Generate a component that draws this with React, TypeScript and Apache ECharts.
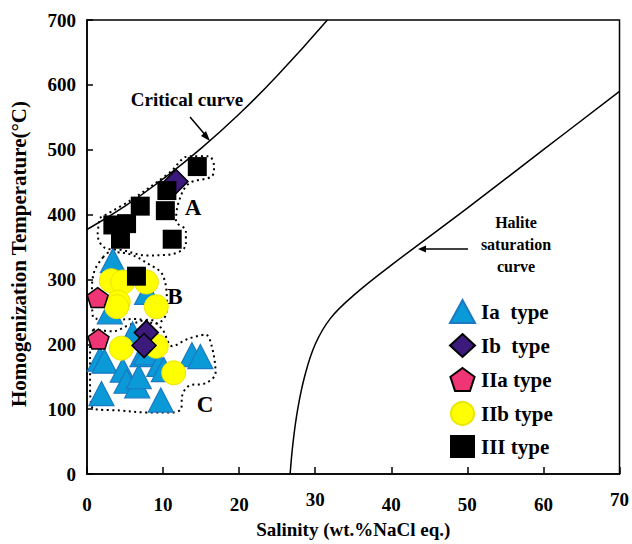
import React, { useEffect, useRef } from "react";
import * as echarts from "echarts";

// Fluid inclusion data: salinity (wt.% NaCl eq.) vs homogenization temperature (°C)
const iaType: number[][] = [
  [3.4, 329], [7.9, 280], [3.0, 250], [1.7, 177], [2.3, 174], [1.9, 124],
  [4.7, 160], [5.2, 143], [6.6, 136], [6.8, 150], [6.0, 216], [7.3, 184],
  [7.8, 187], [9.5, 169], [10.1, 161], [9.7, 114], [13.8, 184], [14.9, 181],
];
const ibType: number[][] = [[11.7, 451], [7.8, 218], [7.5, 198]];
const iiaType: number[][] = [[1.5, 208], [1.4, 272]];
const iibType: number[][] = [
  [3.2, 298], [4.7, 296], [7.8, 296], [4.1, 265], [3.9, 258], [9.1, 258],
  [4.5, 194], [9.1, 197], [11.4, 156],
];
const iiiType: number[][] = [
  [3.4, 384], [5.2, 386], [4.4, 362], [7.0, 413], [10.3, 406], [10.5, 437],
  [14.5, 474], [11.2, 362], [6.5, 305],
];

// Reference curves
const criticalCurve: number[][] = [
  [0, 377], [5, 413], [10, 455], [15, 502], [20, 555], [25, 614], [31.6, 700],
];
const haliteCurve: number[][] = [
  [26.7, 0], [27.1, 50], [27.7, 100], [28.6, 150], [30, 200], [32, 240],
  [35, 275], [40, 322], [50, 410], [60, 500], [70, 590],
];

// Dotted envelopes around groups A, B, C
const envelopeA: number[][] = [
  [1.7, 395], [5.6, 421], [10.8, 464], [13.4, 490], [16.0, 490], [16.7, 474],
  [16.4, 459], [13.4, 448], [12.1, 421], [11.7, 390], [13.0, 375], [13.0, 354],
  [11.2, 339], [7.8, 337], [4.7, 345], [2.3, 349], [1.4, 369], [1.7, 395],
];
const envelopeB: number[][] = [
  [2.1, 334], [3.0, 342], [5.6, 339], [8.2, 323], [9.9, 308], [10.5, 268],
  [10.4, 247], [9.1, 232], [6.5, 239], [3.4, 238], [0.8, 242], [0.65, 284],
  [1.0, 314], [2.1, 334],
];
const envelopeC: number[][] = [
  [0.8, 223], [3.4, 220], [5.6, 230], [8.2, 238], [9.9, 223], [11.2, 197],
  [13.0, 207], [14.3, 212], [15.6, 215], [16.4, 197], [16.9, 156], [15.6, 140],
  [13.4, 136], [12.5, 120], [12.4, 101], [11.2, 95], [7.8, 95], [4.3, 98],
  [0.8, 101], [0.4, 140], [0.4, 192], [0.8, 223],
];

const raisedXTicks = [30, 70];

const SERIF = "'Liberation Serif', 'Times New Roman', serif";
const PENTAGON =
  "path://M50,0 L97.6,34.5 L79.4,90.5 L20.6,90.5 L2.4,34.5 Z";

const names = ["Ia  type", "Ib  type", "IIa type", "IIb type", "III type"];

export default function App() {
  const ref = useRef<HTMLDivElement>(null);

  useEffect(() => {
    if (!ref.current) return;
    const chart = echarts.init(ref.current, undefined, { renderer: "svg" });

    const envelope = (data: number[][]) => ({
      type: "line",
      data,
      silent: true,
      symbol: "none",
      smooth: 0.35,
      lineStyle: { color: "#000", width: 2, type: [2, 3.5] },
      z: 1,
    });

    const labelText = (text: string, x: number, y: number, size: number) => ({
      type: "text",
      x,
      y,
      style: {
        text,
        font: `bold ${size}px ${SERIF}`,
        fill: "#000",
        align: "center",
        verticalAlign: "middle",
      },
    });

    chart.setOption({
      animation: false,
      backgroundColor: "#fff",
      grid: {
        left: 87,
        right: 7,
        top: 20,
        bottom: 65,
        show: true,
        borderColor: "#000",
        borderWidth: 1.5,
      },
      xAxis: {
        type: "value",
        min: 0,
        max: 70,
        interval: 10,
        name: "Salinity (wt.%NaCl eq.)",
        nameLocation: "middle",
        nameGap: 46,
        nameTextStyle: {
          fontFamily: SERIF,
          fontWeight: "bold",
          fontSize: 19,
          color: "#000",
        },
        splitLine: { show: false },
        axisLine: { lineStyle: { color: "#000", width: 1.5 } },
        axisTick: { inside: true, length: 7, lineStyle: { color: "#000", width: 1.5 } },
        axisLabel: {
          margin: 40,
          verticalAlign: "bottom",
          fontFamily: SERIF,
          fontWeight: "bold",
          fontSize: 19,
          color: "#000",
          formatter: (v: number) =>
            raisedXTicks.includes(v) ? `{up|${v}}` : `{n|${v}}`,
          rich: {
            n: {
              fontFamily: SERIF,
              fontWeight: "bold",
              fontSize: 19,
              color: "#000",
            },
            up: {
              fontFamily: SERIF,
              fontWeight: "bold",
              fontSize: 19,
              color: "#000",
              padding: [0, 0, 5, 0],
            },
          },
        },
      },
      yAxis: {
        type: "value",
        min: 0,
        max: 700,
        interval: 100,
        name: "Homogenization Temperature(°C)",
        nameLocation: "middle",
        nameGap: 58,
        nameTextStyle: {
          fontFamily: SERIF,
          fontWeight: "bold",
          fontSize: 21,
          color: "#000",
          padding: [0, 14, 0, 0],
        },
        splitLine: { show: false },
        axisLine: { lineStyle: { color: "#000", width: 1.5 } },
        axisTick: { inside: true, length: 6, lineStyle: { color: "#000", width: 1.5 } },
        axisLabel: {
          margin: 11,
          fontFamily: SERIF,
          fontWeight: "bold",
          fontSize: 19,
          color: "#000",
        },
      },
      legend: {
        data: names,
        orient: "vertical",
        left: 444,
        top: 294,
        itemWidth: 25,
        itemHeight: 23,
        itemGap: 9,
        selectedMode: false,
        textStyle: {
          fontFamily: SERIF,
          fontWeight: "bold",
          fontSize: 21,
          color: "#000",
          padding: [0, 0, 0, 1],
        },
      },
      series: [
        envelope(envelopeA),
        envelope(envelopeB),
        envelope(envelopeC),
        {
          type: "line",
          data: criticalCurve,
          smooth: true,
          symbol: "none",
          silent: true,
          clip: true,
          lineStyle: { color: "#000", width: 1.5 },
          z: 1,
        },
        {
          type: "line",
          data: haliteCurve,
          smooth: 0.4,
          symbol: "none",
          silent: true,
          clip: true,
          lineStyle: { color: "#000", width: 1.5 },
          z: 1,
        },
        {
          name: names[0],
          type: "scatter",
          data: iaType,
          symbol: "triangle",
          symbolSize: [25, 24],
          itemStyle: {
            color: "#0a9ad8",
            borderColor: "#1b78c2",
            borderWidth: 1.2,
            opacity: 1,
          },
          z: 3,
        },
        {
          name: names[3],
          type: "scatter",
          data: iibType,
          symbol: "circle",
          symbolSize: 24,
          itemStyle: {
            color: "#ffff00",
            borderColor: "#ece600",
            borderWidth: 1,
            opacity: 1,
          },
          z: 4,
        },
        {
          name: names[1],
          type: "scatter",
          data: ibType,
          symbol: "diamond",
          symbolSize: [24, 24],
          itemStyle: {
            color: "#3c1a7c",
            borderColor: "#000",
            borderWidth: 1.5,
            opacity: 1,
          },
          z: 5,
        },
        {
          name: names[2],
          type: "scatter",
          data: iiaType,
          symbol: PENTAGON,
          symbolSize: [21, 20],
          itemStyle: {
            color: "#ef3575",
            borderColor: "#000",
            borderWidth: 1.5,
            opacity: 1,
          },
          z: 5,
        },
        {
          name: names[4],
          type: "scatter",
          data: iiiType,
          symbol: "rect",
          symbolSize: 19,
          itemStyle: { color: "#000", opacity: 1 },
          z: 6,
        },
      ],
      graphic: [
        {
          type: "text",
          x: 187,
          y: 99,
          style: {
            text: "Critical curve",
            font: `bold 19px ${SERIF}`,
            fill: "#000",
            align: "center",
            verticalAlign: "middle",
          },
        },
        {
          type: "line",
          shape: { x1: 190, y1: 117, x2: 207, y2: 137 },
          style: { stroke: "#000", lineWidth: 1.5 },
        },
        {
          type: "polygon",
          shape: { points: [[210, 141], [201, 136], [206, 131]] },
          style: { fill: "#000" },
        },
        {
          type: "text",
          x: 516,
          y: 244,
          style: {
            text: "Halite\nsaturation\ncurve",
            font: `bold 16px ${SERIF}`,
            lineHeight: 22,
            fill: "#000",
            align: "center",
            verticalAlign: "middle",
          },
        },
        {
          type: "line",
          shape: { x1: 424, y1: 249, x2: 468, y2: 249 },
          style: { stroke: "#000", lineWidth: 1.5 },
        },
        {
          type: "polygon",
          shape: { points: [[418, 249], [426, 245.5], [426, 252.5]] },
          style: { fill: "#000" },
        },
        labelText("A", 193, 207, 23),
        labelText("B", 175, 296, 23),
        labelText("C", 205, 404, 23),
      ],
    });

    return () => chart.dispose();
  }, []);

  return (
    <div
      ref={ref}
      style={{ position: "absolute", left: 0, top: 0, width: 632, height: 544 }}
    />
  );
}
